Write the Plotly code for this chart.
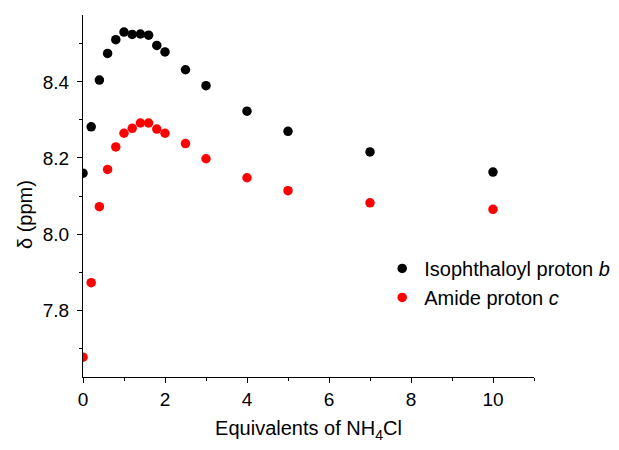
import plotly.graph_objects as go

equiv = [0, 0.2, 0.4, 0.6, 0.8, 1.0, 1.2, 1.4, 1.6, 1.8, 2.0, 2.5, 3, 4, 5, 7, 10]
iso_b = [8.160, 8.282, 8.405, 8.475, 8.511, 8.531, 8.525, 8.526, 8.523, 8.496, 8.479,
         8.432, 8.390, 8.323, 8.270, 8.216, 8.163]
amide_c = [7.676, 7.872, 8.072, 8.170, 8.229, 8.265, 8.278, 8.292, 8.292, 8.276, 8.265,
           8.238, 8.198, 8.148, 8.114, 8.082, 8.065]

x_ticks = [0, 2, 4, 6, 8, 10]
y_ticks = [7.8, 8.0, 8.2, 8.4]
y_tick_text = ["7.8", "8.0", "8.2", "8.4"]

font_family = "Liberation Sans, Arial, sans-serif"

fig = go.Figure()
fig.add_trace(go.Scatter(x=equiv, y=iso_b, mode="markers",
                         name="Isophthaloyl proton <i>b</i>",
                         marker=dict(color="black", size=9.5, line=dict(width=0))))
fig.add_trace(go.Scatter(x=equiv, y=amide_c, mode="markers",
                         name="Amide proton <i>c</i>",
                         marker=dict(color="#ff0000", size=9.5, line=dict(width=0))))

fig.update_layout(
    width=619, height=450,
    margin=dict(l=83, r=85, t=15, b=73, autoexpand=False),
    paper_bgcolor="white", plot_bgcolor="white",
    font=dict(family=font_family, size=19, color="black"),
    showlegend=True,
    legend=dict(x=0.659, y=0.26, xanchor="left", yanchor="middle",
                bgcolor="rgba(0,0,0,0)", font=dict(size=20),
                itemsizing="trace", tracegroupgap=0, itemwidth=34),
    xaxis=dict(
        range=[0, 11], showgrid=False, zeroline=False,
        showline=True, linecolor="black", linewidth=1.3,
        ticks="outside", ticklen=5, tickwidth=1.3, tickcolor="black",
        tickvals=x_ticks,
        minor=dict(ticks="outside", ticklen=3, tickwidth=1.3, tickcolor="black", dtick=1, tick0=0),
        tickfont=dict(size=19),
        title=dict(text="Equivalents of NH<sub>4</sub>Cl", font=dict(size=20), standoff=12),
    ),
    yaxis=dict(
        range=[7.624, 8.576], showgrid=False, zeroline=False,
        showline=True, linecolor="black", linewidth=1.3,
        ticks="outside", ticklen=5, tickwidth=1.3, tickcolor="black",
        tickvals=y_ticks, ticktext=y_tick_text,
        ticklabelstandoff=4,
        minor=dict(ticks="outside", ticklen=3, tickwidth=1.3, tickcolor="black", dtick=0.1, tick0=7.7),
        tickfont=dict(size=19),
    ),
    annotations=[dict(text="δ (ppm)", textangle=-90, xref="paper", yref="paper",
                      x=-0.1286, y=0.4475, xanchor="center", yanchor="middle",
                      showarrow=False, font=dict(size=20))],
)

fig.write_html("out.html")
